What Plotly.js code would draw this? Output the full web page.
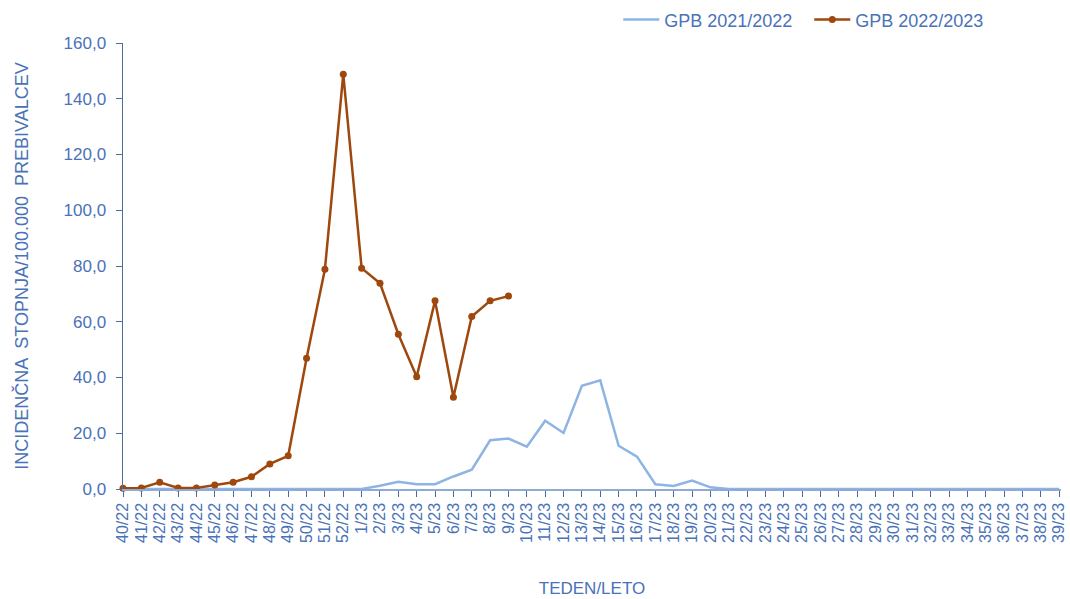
<!DOCTYPE html>
<html>
<head>
<meta charset="utf-8">
<script src="https://cdn.plot.ly/plotly-3.0.1.min.js"></script>
<style>html,body{margin:0;padding:0;background:#fff;}#chart{width:1070px;height:599px;}</style>
</head>
<body>
<div id="chart"></div>
<script>
const weeks = ["40/22","41/22","42/22","43/22","44/22","45/22","46/22","47/22","48/22","49/22","50/22","51/22","52/22",
"1/23","2/23","3/23","4/23","5/23","6/23","7/23","8/23","9/23","10/23","11/23","12/23","13/23","14/23","15/23","16/23","17/23","18/23","19/23","20/23",
"21/23","22/23","23/23","24/23","25/23","26/23","27/23","28/23","29/23","30/23","31/23","32/23","33/23","34/23","35/23","36/23","37/23","38/23","39/23"];

const gpb2122 = [0,0,0,0,0,0,0,0,0,0,0,0,0,
0,1.2,2.6,1.7,1.7,4.5,6.9,17.5,18.1,15.2,24.5,20.1,37.0,39.0,15.5,11.6,1.7,1.1,3.0,0.6,
0,0,0,0,0,0,0,0,0,0,0,0,0,0,0,0,0,0,0];

const gpb2223 = [0.3,0.4,2.4,0.4,0.4,1.4,2.4,4.4,9.0,11.9,46.9,78.8,148.8,
79.2,73.8,55.5,40.3,67.5,32.9,61.9,67.5,69.2];

const names = ["GPB 2021/2022","GPB 2022/2023"];

const txtColor = "#4a72b8";
const traces = [
  {x: weeks, y: gpb2122, name: names[0], type: "scatter", mode: "lines",
   line: {color: "#8eb4e3", width: 2.5}},
  {x: weeks.slice(0, gpb2223.length), y: gpb2223, name: names[1], type: "scatter", mode: "lines+markers",
   line: {color: "#9e480e", width: 2.5}, marker: {color: "#9e480e", size: 7}, cliponaxis: false}
];

const layout = {
  width: 1070, height: 599,
  margin: {l: 123, r: 9, t: 43, b: 110, autoexpand: false},
  paper_bgcolor: "#fff", plot_bgcolor: "#fff",
  separators: ",.",
  font: {family: "Liberation Sans, Arial, sans-serif", color: txtColor, size: 16},
  showlegend: true,
  legend: {orientation: "h", x: 0.528, xanchor: "left", y: 1.052, yanchor: "middle",
           font: {size: 18, color: txtColor}, bgcolor: "rgba(0,0,0,0)", traceorder: "normal",
           itemwidth: 36, entrywidth: 140, entrywidthmode: "pixels"},
  xaxis: {
    type: "category", range: [0, 51.1], tickangle: -90,
    tickmode: "array", tickvals: weeks, ticktext: weeks,
    showgrid: false, zeroline: false,
    showline: true, linecolor: "#8eaad6", linewidth: 1.5,
    ticks: "outside", ticklen: 6, tickcolor: "#4a6a9a", tickwidth: 1,
    tickfont: {size: 16, color: txtColor},
    title: {text: "TEDEN/LETO", font: {size: 17, color: txtColor}, standoff: 40}
  },
  yaxis: {
    range: [0, 160], dtick: 20, tickformat: ".1f",
    showgrid: false, zeroline: false,
    showline: true, linecolor: "#4f6d96", linewidth: 1.5,
    ticks: "outside", ticklen: 6, tickcolor: "#4f6d96",
    ticklabelstandoff: 6,
    tickfont: {size: 17, color: txtColor},
    title: {text: "INCIDENČNA  STOPNJA/100.000  PREBIVALCEV", font: {size: 18, color: txtColor}, standoff: 30}
  }
};

Plotly.newPlot("chart", traces, layout, {displayModeBar: false, staticPlot: true});
</script>
</body>
</html>
